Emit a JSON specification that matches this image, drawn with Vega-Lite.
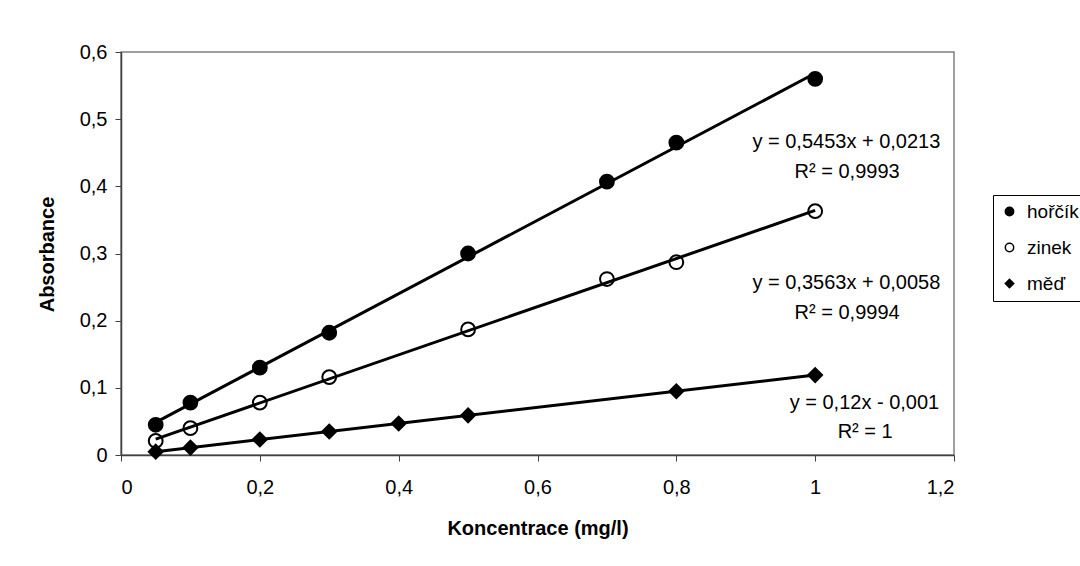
{
  "$schema": "https://vega.github.io/schema/vega-lite/v6.json",
  "width": 833,
  "height": 403,
  "autosize": {"type": "none"},
  "padding": {"left": 121, "top": 52, "right": 126, "bottom": 111},
  "background": "white",
  "config": {
    "font": "Liberation Sans",
    "view": {"stroke": "#808080", "strokeWidth": 1.5},
    "legend": {
      "title": null,
      "orient": "none",
      "legendX": 872,
      "legendY": 143,
      "strokeColor": "black",
      "fillColor": "white",
      "padding": 7,
      "rowPadding": 16,
      "labelFontSize": 19,
      "labelColor": "black",
      "labelOffset": 8,
      "symbolSize": 70,
      "symbolStrokeColor": "black",
      "symbolStrokeWidth": 1.5
    }
  },
  "datasets": {
    "points": [
      {"series": "hořčík", "x": 0.05, "y": 0.045},
      {"series": "hořčík", "x": 0.1, "y": 0.078},
      {"series": "hořčík", "x": 0.2, "y": 0.130},
      {"series": "hořčík", "x": 0.3, "y": 0.182},
      {"series": "hořčík", "x": 0.5, "y": 0.300},
      {"series": "hořčík", "x": 0.7, "y": 0.407},
      {"series": "hořčík", "x": 0.8, "y": 0.465},
      {"series": "hořčík", "x": 1.0, "y": 0.560},
      {"series": "zinek", "x": 0.05, "y": 0.021},
      {"series": "zinek", "x": 0.1, "y": 0.040},
      {"series": "zinek", "x": 0.2, "y": 0.078},
      {"series": "zinek", "x": 0.3, "y": 0.116},
      {"series": "zinek", "x": 0.5, "y": 0.187},
      {"series": "zinek", "x": 0.7, "y": 0.262},
      {"series": "zinek", "x": 0.8, "y": 0.287},
      {"series": "zinek", "x": 1.0, "y": 0.363},
      {"series": "měď", "x": 0.05, "y": 0.005},
      {"series": "měď", "x": 0.1, "y": 0.011},
      {"series": "měď", "x": 0.2, "y": 0.023},
      {"series": "měď", "x": 0.3, "y": 0.035},
      {"series": "měď", "x": 0.4, "y": 0.047},
      {"series": "měď", "x": 0.5, "y": 0.059},
      {"series": "měď", "x": 0.8, "y": 0.095},
      {"series": "měď", "x": 1.0, "y": 0.119}
    ],
    "notes": [
      {"x": 1.045, "y": 0.466, "text": "y = 0,5453x + 0,0213"},
      {"x": 1.046, "y": 0.421, "text": "R² = 0,9993"},
      {"x": 1.045, "y": 0.256, "text": "y = 0,3563x + 0,0058"},
      {"x": 1.046, "y": 0.211, "text": "R² = 0,9994"},
      {"x": 1.071, "y": 0.0774, "text": "y = 0,12x - 0,001"},
      {"x": 1.072, "y": 0.034, "text": "R² = 1"}
    ]
  },
  "encoding": {
    "x": {
      "field": "x",
      "type": "quantitative",
      "scale": {"domain": [0, 1.2], "nice": false, "zero": false},
      "axis": {
        "values": [0, 0.2, 0.4, 0.6, 0.8, 1.0, 1.2],
        "labelExpr": "replace(format(datum.value, '.1~f'), '.', ',')",
        "grid": false,
        "tickSize": 6,
        "tickColor": "#404040",
        "domainColor": "#404040",
        "domainWidth": 1.5,
        "labelFontSize": 20,
        "labelColor": "black",
        "labelPadding": 16,
        "title": "Koncentrace (mg/l)",
        "titleFontSize": 20,
        "titleFontWeight": "bold",
        "titleColor": "black",
        "titleBaseline": "middle",
        "titleY": 73
      }
    },
    "y": {
      "field": "y",
      "type": "quantitative",
      "scale": {"domain": [0, 0.6], "nice": false},
      "axis": {
        "values": [0, 0.1, 0.2, 0.3, 0.4, 0.5, 0.6],
        "labelExpr": "replace(format(datum.value, '.1~f'), '.', ',')",
        "grid": false,
        "tickSize": 6,
        "tickColor": "#404040",
        "domainColor": "#404040",
        "domainWidth": 1.5,
        "labelFontSize": 20,
        "labelColor": "black",
        "labelPadding": 8,
        "title": "Absorbance",
        "titleFontSize": 20,
        "titleFontWeight": "bold",
        "titleColor": "black",
        "titleAngle": -90,
        "titleAlign": "center",
        "titleBaseline": "middle",
        "titleX": -74,
        "titleY": 202
      }
    }
  },
  "layer": [
    {
      "data": {"name": "points"},
      "mark": {"type": "point", "strokeWidth": 2, "size": 190, "opacity": 1},
      "encoding": {
        "shape": {
          "field": "series",
          "type": "nominal",
          "scale": {"domain": ["hořčík", "zinek", "měď"], "range": ["circle", "circle", "diamond"]}
        },
        "fill": {
          "field": "series",
          "type": "nominal",
          "scale": {"domain": ["hořčík", "zinek", "měď"], "range": ["black", "white", "black"]}
        },
        "stroke": {
          "field": "series",
          "type": "nominal",
          "scale": {"domain": ["hořčík", "zinek", "měď"], "range": ["black", "black", "black"]}
        }
      }
    },
    {
      "data": {"name": "points"},
      "transform": [
        {"regression": "y", "on": "x", "groupby": ["series"], "method": "linear"}
      ],
      "mark": {"type": "line", "color": "black", "strokeWidth": 3},
      "encoding": {
        "detail": {"field": "series", "type": "nominal"}
      }
    },
    {
      "data": {"name": "notes"},
      "mark": {"type": "text", "fontSize": 20, "color": "black", "align": "center", "baseline": "middle"},
      "encoding": {
        "text": {"field": "text", "type": "nominal"}
      }
    }
  ]
}
